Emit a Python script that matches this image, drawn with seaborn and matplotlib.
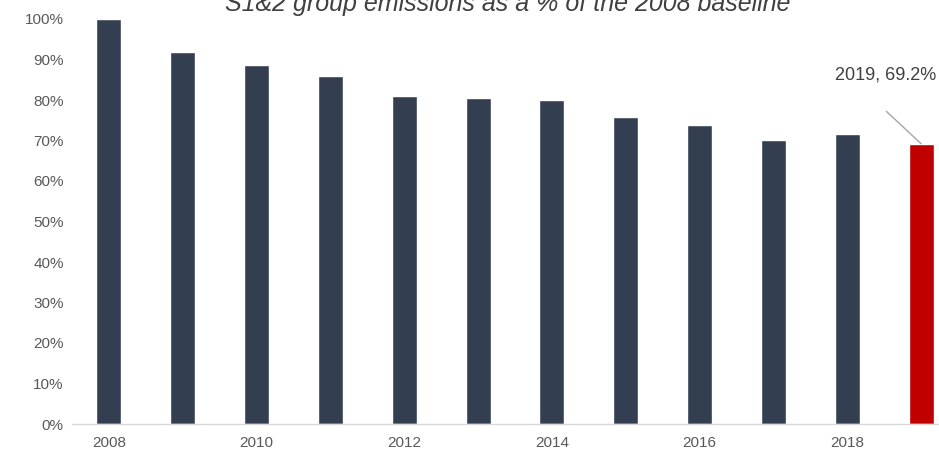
import numpy as np
import pandas as pd
import matplotlib
matplotlib.use("Agg")
import matplotlib.pyplot as plt
import seaborn as sns
from matplotlib.ticker import PercentFormatter

# data
years = [str(y) for y in range(2008, 2020)]
emissions = [1.000, 0.919, 0.886, 0.859, 0.810, 0.805, 0.800, 0.758, 0.738, 0.702, 0.716, 0.692]
bar_colors = ["#333F50"] * 11 + ["#C00000"]
shown_years = ["2008", "2010", "2012", "2014", "2016", "2018"]

df = pd.DataFrame({"year": years, "pct": emissions})

sns.set_style("white")
plt.rcParams["font.family"] = ["Liberation Sans", "DejaVu Sans"]

W, H = 939, 449
fig = plt.figure(figsize=(W / 100, H / 100), dpi=100)
# axes runs off the right edge like the original crop
ax = fig.add_axes([72 / W, 25 / H, (958 - 72) / W, (424 - 19) / H])

sns.barplot(
    data=df, x="year", y="pct", hue="year", palette=bar_colors,
    order=years, legend=False, width=0.34, saturation=1, ax=ax
)

ax.set_ylim(0, 1.0)
ax.set_xlim(-0.5, 11.5)
ax.yaxis.set_major_locator(plt.MultipleLocator(0.1))
ax.yaxis.set_major_formatter(PercentFormatter(1.0, decimals=0))

ax.set_xticks([years.index(y) for y in shown_years])
ax.set_xticklabels(shown_years)
ax.tick_params(axis="both", length=0, labelsize=11, labelcolor="#595959")
ax.tick_params(axis="x", pad=8.5)
ax.tick_params(axis="y", pad=6)

ax.set_xlabel("")
ax.set_ylabel("")
for s in ["top", "right", "left"]:
    ax.spines[s].set_visible(False)
ax.spines["bottom"].set_color("#D9D9D9")
ax.spines["bottom"].set_linewidth(1)

# title is clipped by the top edge in the original
fig.text(508 / W, (H - 11) / H, "S1&2 group emissions as a % of the 2008 baseline",
         fontsize=18, style="italic", color="#404040", ha="center", va="baseline")

# callout for the latest year
last = len(years) - 1
ax.annotate("", xy=(last, emissions[last]), xytext=(10.53, 0.772),
            arrowprops=dict(arrowstyle="-", color="#A6A6A6", lw=1,
                            shrinkA=0, shrinkB=0))
ax.text(10.52, 0.862, f"{years[last]}, {emissions[last] * 100:.1f}%",
        ha="center", va="center", fontsize=13, color="#404040")

fig.savefig("out.png", dpi=100)
